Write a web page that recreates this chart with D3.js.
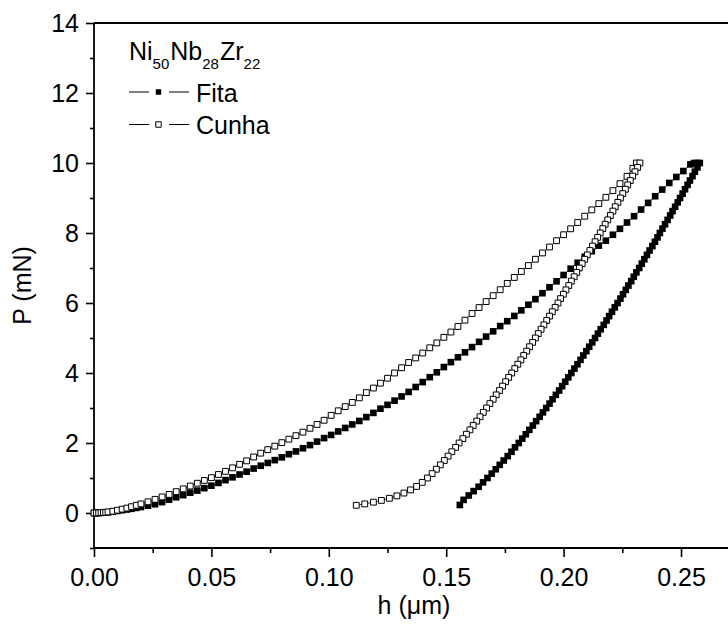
<!DOCTYPE html>
<html>
<head>
<meta charset="utf-8">
<script src="https://cdn.jsdelivr.net/npm/d3@7"></script>
<style>
  html, body { margin: 0; padding: 0; background: #fff; }
  svg { display: block; font-family: "Liberation Sans", Arial, Helvetica, sans-serif; }
</style>
</head>
<body>
<svg id="chart" width="728" height="626"></svg>
<script>
// ---- Load–displacement data (h in µm, P in mN) ----
// Fita: loading branch (incl. short hold at peak load)
const fitaLoadH = [0, 0.001, 0.002, 0.003, 0.004, 0.005, 0.006, 0.008, 0.010, 0.012, 0.014, 0.016, 0.018, 0.020, 0.023, 0.026,
  0.029, 0.032, 0.035, 0.038, 0.041, 0.044, 0.047, 0.050, 0.053, 0.056, 0.059, 0.062, 0.065, 0.068, 0.071, 0.074,
  0.077, 0.080, 0.083, 0.086, 0.089, 0.092, 0.095, 0.098, 0.101, 0.104, 0.107, 0.110, 0.113,
  0.116, 0.119, 0.122, 0.125, 0.128, 0.131, 0.134, 0.137, 0.140, 0.143, 0.146, 0.149, 0.152, 0.155, 0.158, 0.161, 0.164, 0.167, 0.170,
  0.173, 0.176, 0.179, 0.182, 0.185, 0.188, 0.191, 0.194, 0.197, 0.200, 0.203, 0.206, 0.209, 0.212, 0.215, 0.218, 0.221, 0.224, 0.227, 0.230,
  0.233, 0.236, 0.239, 0.242, 0.245, 0.248, 0.251, 0.254, 0.2555, 0.257];
const fitaLoadP = [0, 0.001, 0.002, 0.005, 0.01, 0.015, 0.02, 0.04, 0.06, 0.08, 0.10, 0.12, 0.145, 0.17, 0.21, 0.25,
  0.31, 0.38, 0.45, 0.51, 0.58, 0.64, 0.71, 0.78, 0.86, 0.94, 1.02, 1.10, 1.18, 1.27, 1.35, 1.43,
  1.51, 1.59, 1.68, 1.76, 1.85, 1.94, 2.04, 2.14, 2.23, 2.33, 2.43, 2.53, 2.63,
  2.74, 2.86, 2.98, 3.09, 3.21, 3.33, 3.46, 3.60, 3.74, 3.88, 4.02, 4.17, 4.31, 4.45, 4.59, 4.74, 4.89, 5.04, 5.19,
  5.34, 5.48, 5.63, 5.79, 5.95, 6.11, 6.28, 6.45, 6.62, 6.80, 6.98, 7.15, 7.32, 7.48, 7.64, 7.78, 7.95, 8.12, 8.30, 8.48,
  8.67, 8.86, 9.05, 9.24, 9.43, 9.60, 9.77, 9.96, 10.0, 10.0];

// Fita: unloading branch
const fitaUnloadH = [0.2580, 0.2570, 0.2559, 0.2549, 0.2538, 0.2528, 0.2517, 0.2507, 0.2496, 0.2486,
  0.2475, 0.2464, 0.2454, 0.2443, 0.2432, 0.2421, 0.2410, 0.2400, 0.2389, 0.2378,
  0.2366, 0.2355, 0.2344, 0.2333, 0.2322, 0.2310, 0.2299, 0.2288, 0.2276, 0.2265,
  0.2253, 0.2242, 0.2230, 0.2218, 0.2206, 0.2194, 0.2183, 0.2171, 0.2158, 0.2146,
  0.2134, 0.2122, 0.2109, 0.2097, 0.2084, 0.2072, 0.2059, 0.2046, 0.2033, 0.2020,
  0.2007, 0.1994, 0.1981, 0.1967, 0.1953, 0.1940, 0.1926, 0.1912, 0.1898, 0.1883,
  0.1869, 0.1854, 0.1839, 0.1824, 0.1809, 0.1793, 0.1778, 0.1762, 0.1745, 0.1728,
  0.1711, 0.1694, 0.1676, 0.1657, 0.1638, 0.1617, 0.1596, 0.1574, 0.1558];
const fitaUnloadP = [10.000, 9.875, 9.750, 9.625, 9.500, 9.375, 9.250, 9.125, 9.000, 8.875,
  8.750, 8.625, 8.500, 8.375, 8.250, 8.125, 8.000, 7.875, 7.750, 7.625,
  7.500, 7.375, 7.250, 7.125, 7.000, 6.875, 6.750, 6.625, 6.500, 6.375,
  6.250, 6.125, 6.000, 5.875, 5.750, 5.625, 5.500, 5.375, 5.250, 5.125,
  5.000, 4.875, 4.750, 4.625, 4.500, 4.375, 4.250, 4.125, 4.000, 3.875,
  3.750, 3.625, 3.500, 3.375, 3.250, 3.125, 3.000, 2.875, 2.750, 2.625,
  2.500, 2.375, 2.250, 2.125, 2.000, 1.875, 1.750, 1.625, 1.500, 1.375,
  1.250, 1.125, 1.000, 0.875, 0.750, 0.625, 0.500, 0.375, 0.230];

// Cunha: loading branch
const cunhaLoadH = [0, 0.001, 0.002, 0.003, 0.004, 0.005, 0.006, 0.008, 0.010, 0.012, 0.014, 0.016, 0.018, 0.020, 0.023, 0.026,
  0.029, 0.032, 0.035, 0.038, 0.041, 0.044, 0.047, 0.050, 0.053, 0.056, 0.059, 0.062, 0.065, 0.068, 0.071, 0.074,
  0.077, 0.080, 0.083, 0.086, 0.089, 0.092, 0.095, 0.098, 0.101, 0.104, 0.107, 0.110, 0.113,
  0.116, 0.119, 0.122, 0.125, 0.128, 0.131, 0.134, 0.137, 0.140, 0.143, 0.146, 0.149, 0.152, 0.155, 0.158, 0.161, 0.164, 0.167, 0.170,
  0.173, 0.176, 0.179, 0.182, 0.185, 0.188, 0.191, 0.194, 0.197, 0.200, 0.203, 0.206, 0.209, 0.212, 0.215, 0.218, 0.221, 0.224, 0.227,
  0.2295, 0.231];
const cunhaLoadP = [0, 0.002, 0.005, 0.01, 0.015, 0.02, 0.03, 0.05, 0.08, 0.11, 0.14, 0.18, 0.22, 0.26, 0.32, 0.39,
  0.46, 0.53, 0.61, 0.69, 0.77, 0.85, 0.93, 1.01, 1.10, 1.19, 1.29, 1.39, 1.49, 1.60, 1.71, 1.81,
  1.91, 2.01, 2.11, 2.21, 2.31, 2.42, 2.53, 2.65, 2.79, 2.92, 3.04, 3.16, 3.29,
  3.44, 3.57, 3.71, 3.85, 4.00, 4.15, 4.30, 4.43, 4.57, 4.72, 4.86, 5.02, 5.17, 5.33, 5.51, 5.70, 5.87, 6.04, 6.21,
  6.38, 6.56, 6.73, 6.90, 7.07, 7.25, 7.43, 7.60, 7.78, 7.95, 8.12, 8.30, 8.48, 8.66, 8.84, 9.02, 9.21, 9.41, 9.62,
  9.85, 10.0];

// Cunha: unloading branch
const cunhaUnloadH = [0.2325, 0.2315, 0.2304, 0.2294, 0.2284, 0.2273, 0.2263, 0.2252, 0.2242, 0.2231,
  0.2220, 0.2210, 0.2199, 0.2188, 0.2177, 0.2167, 0.2156, 0.2145, 0.2134, 0.2123,
  0.2112, 0.2101, 0.2090, 0.2079, 0.2067, 0.2056, 0.2045, 0.2033, 0.2022, 0.2010,
  0.1999, 0.1987, 0.1976, 0.1964, 0.1952, 0.1940, 0.1928, 0.1916, 0.1904, 0.1892,
  0.1880, 0.1868, 0.1855, 0.1843, 0.1830, 0.1818, 0.1805, 0.1792, 0.1779, 0.1766,
  0.1753, 0.1740, 0.1727, 0.1713, 0.1700, 0.1686, 0.1672, 0.1658, 0.1644, 0.1630,
  0.1615, 0.1601, 0.1586, 0.1571, 0.1555, 0.1540, 0.1524, 0.1508, 0.1492, 0.1475,
  0.1458, 0.1440, 0.1420, 0.1398, 0.1374, 0.1348, 0.1320, 0.1290, 0.1258, 0.1224,
  0.1190, 0.1153, 0.1117];
const cunhaUnloadP = [10.000, 9.875, 9.750, 9.625, 9.500, 9.375, 9.250, 9.125, 9.000, 8.875,
  8.750, 8.625, 8.500, 8.375, 8.250, 8.125, 8.000, 7.875, 7.750, 7.625,
  7.500, 7.375, 7.250, 7.125, 7.000, 6.875, 6.750, 6.625, 6.500, 6.375,
  6.250, 6.125, 6.000, 5.875, 5.750, 5.625, 5.500, 5.375, 5.250, 5.125,
  5.000, 4.875, 4.750, 4.625, 4.500, 4.375, 4.250, 4.125, 4.000, 3.875,
  3.750, 3.625, 3.500, 3.375, 3.250, 3.125, 3.000, 2.875, 2.750, 2.625,
  2.500, 2.375, 2.250, 2.125, 2.000, 1.875, 1.750, 1.625, 1.500, 1.375,
  1.250, 1.125, 1.000, 0.875, 0.760, 0.660, 0.570, 0.490, 0.420, 0.360,
  0.310, 0.260, 0.220];

// Axis ticks and labels
const xMajorTicks = [0, 0.05, 0.10, 0.15, 0.20, 0.25];
const xMinorTicks = [0.025, 0.075, 0.125, 0.175, 0.225, 0.275];
const xTickLabels = ["0.00", "0.05", "0.10", "0.15", "0.20", "0.25"];
const yMajorTicks = [0, 2, 4, 6, 8, 10, 12, 14];
const yMinorTicks = [-1, 1, 3, 5, 7, 9, 11, 13];
const yTickLabels = ["0", "2", "4", "6", "8", "10", "12", "14"];
const xTitle = "h (\u03bcm)";
const yTitle = "P (mN)";
const seriesNames = ["Fita", "Cunha"];

// ---- Layout ----
const W = 728, H = 626;
const xMin = 0, xMax = 0.2725, yMin = -1, yMax = 14;
const plotLeft = 94, plotBottom = 548, plotTop = 23;
const pxPerUnitX = 587 / 0.25;

const x = d3.scaleLinear().domain([xMin, xMax]).range([plotLeft, plotLeft + (xMax - xMin) * pxPerUnitX]);
const y = d3.scaleLinear().domain([yMin, yMax]).range([plotBottom, plotTop]);

const svg = d3.select("#chart").attr("viewBox", `0 0 ${W} ${H}`).style("overflow", "hidden");
svg.append("rect").attr("width", W).attr("height", H).attr("fill", "#fff");

const FONT = 25;
const SUB = 15;

// ---- Axes ----
const xAxisMajor = d3.axisBottom(x).tickValues(xMajorTicks).tickSize(9).tickPadding(11)
  .tickFormat((d, i) => xTickLabels[i]);
const xAxisMinor = d3.axisBottom(x).tickValues(xMinorTicks).tickSize(5).tickFormat("");
const yAxisMajor = d3.axisLeft(y).tickValues(yMajorTicks).tickSize(8).tickPadding(7)
  .tickFormat((d, i) => yTickLabels[i]);
const yAxisMinor = d3.axisLeft(y).tickValues(yMinorTicks).tickSize(4).tickFormat("");

function styleAxis(g) {
  g.select(".domain").remove();
  g.selectAll(".tick line").attr("stroke", "#000").attr("stroke-width", 1.6);
  g.selectAll(".tick text").attr("fill", "#000").attr("font-size", FONT)
    .attr("font-family", "'Liberation Sans', Arial, sans-serif");
}

svg.append("g").attr("transform", `translate(0,${y(yMin)})`).call(xAxisMajor).call(styleAxis);
svg.append("g").attr("transform", `translate(0,${y(yMin)})`).call(xAxisMinor).call(styleAxis);
svg.append("g").attr("transform", `translate(${x(xMin)},0)`).call(yAxisMajor).call(styleAxis);
svg.append("g").attr("transform", `translate(${x(xMin)},0)`).call(yAxisMinor).call(styleAxis);

// Frame
const frame = svg.append("g").attr("fill", "none").attr("stroke", "#000").attr("stroke-width", 1.8);
frame.append("line").attr("x1", x(xMin)).attr("x2", x(xMax)).attr("y1", y(yMin)).attr("y2", y(yMin));
frame.append("line").attr("x1", x(xMin)).attr("x2", x(xMax)).attr("y1", y(yMax)).attr("y2", y(yMax));
frame.append("line").attr("x1", x(xMin)).attr("x2", x(xMin)).attr("y1", y(yMin)).attr("y2", y(yMax));
frame.append("line").attr("x1", x(xMax)).attr("x2", x(xMax)).attr("y1", y(yMin)).attr("y2", y(yMax));

// Axis titles
svg.append("text").attr("x", (x(xMin) + x(xMax)) / 2).attr("y", 614)
  .attr("text-anchor", "middle").attr("font-size", FONT).text(xTitle);
svg.append("text").attr("transform", `translate(31,${(y(yMin) + y(yMax)) / 2}) rotate(-90)`)
  .attr("text-anchor", "middle").attr("font-size", FONT).text(yTitle);

// ---- Series ----
const zip = (hs, ps) => hs.map((h, i) => ({ h, p: ps[i] }));
const fita = zip(fitaLoadH, fitaLoadP).concat(zip(fitaUnloadH, fitaUnloadP));
const cunha = zip(cunhaLoadH, cunhaLoadP).concat(zip(cunhaUnloadH, cunhaUnloadP));

const line = d3.line().x(d => x(d.h)).y(d => y(d.p));
const filledSq = d3.symbol().type(d3.symbolSquare).size(44);
const openSq = d3.symbol().type(d3.symbolSquare).size(34);

function drawSeries(data, filled) {
  const g = svg.append("g");
  g.append("path").datum(data).attr("d", line)
    .attr("fill", "none").attr("stroke", "#000").attr("stroke-width", 0.8);
  g.selectAll("path.pt").data(data).join("path").attr("class", "pt")
    .attr("transform", d => `translate(${x(d.h)},${y(d.p)})`)
    .attr("d", filled ? filledSq : openSq)
    .attr("fill", filled ? "#000" : "#fff")
    .attr("stroke", filled ? "none" : "#000")
    .attr("stroke-width", filled ? 0 : 1);
}
drawSeries(fita, true);
drawSeries(cunha, false);

// ---- Legend ----
const legendSq = d3.symbol().type(d3.symbolSquare).size(30);
const lg = svg.append("g").attr("font-size", FONT);
const title = lg.append("text").attr("x", 129).attr("y", 60);
title.append("tspan").text("Ni");
title.append("tspan").attr("font-size", SUB).attr("dy", 9).text("50");
title.append("tspan").attr("dx", 1).attr("dy", -9).text("Nb");
title.append("tspan").attr("font-size", SUB).attr("dy", 9).text("28");
title.append("tspan").attr("dx", 1).attr("dy", -9).text("Zr");
title.append("tspan").attr("font-size", SUB).attr("dy", 9).text("22");

const rows = [{ name: seriesNames[0], filled: true, cy: 92 }, { name: seriesNames[1], filled: false, cy: 124.5 }];
rows.forEach(r => {
  lg.append("line").attr("x1", 129).attr("x2", 149).attr("y1", r.cy).attr("y2", r.cy)
    .attr("stroke", "#000").attr("stroke-width", 1);
  lg.append("line").attr("x1", 169).attr("x2", 189).attr("y1", r.cy).attr("y2", r.cy)
    .attr("stroke", "#000").attr("stroke-width", 1);
  lg.append("path").attr("transform", `translate(158.5,${r.cy})`)
    .attr("d", legendSq)
    .attr("fill", r.filled ? "#000" : "#fff")
    .attr("stroke", r.filled ? "none" : "#000").attr("stroke-width", r.filled ? 0 : 1);
  lg.append("text").attr("x", 196).attr("y", r.cy + 9.5).text(r.name);
});
</script>
</body>
</html>
